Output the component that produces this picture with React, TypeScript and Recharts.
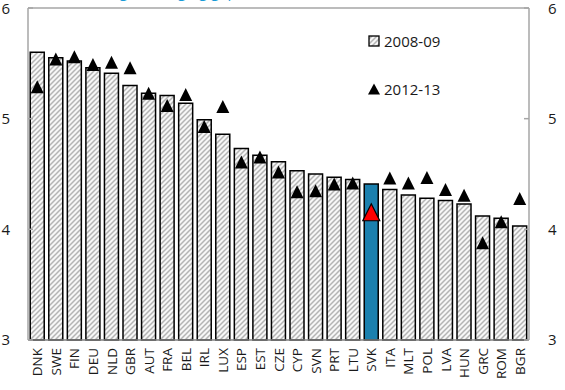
import React from "react";
import { ComposedChart, Bar, Line, XAxis, YAxis, Cell, ReferenceLine } from "recharts";

const countries = ["DNK", "SWE", "FIN", "DEU", "NLD", "GBR", "AUT", "FRA", "BEL", "IRL", "LUX", "ESP", "EST", "CZE", "CYP", "SVN", "PRT", "LTU", "SVK", "ITA", "MLT", "POL", "LVA", "HUN", "GRC", "ROM", "BGR"];
const v2008 = [5.6, 5.55, 5.52, 5.46, 5.41, 5.3, 5.23, 5.21, 5.14, 4.99, 4.86, 4.73, 4.67, 4.61, 4.53, 4.5, 4.47, 4.45, 4.41, 4.36, 4.31, 4.28, 4.26, 4.23, 4.12, 4.1, 4.03];
const v2012 = [5.28, 5.53, 5.55, 5.48, 5.5, 5.45, 5.22, 5.11, 5.21, 4.92, 5.1, 4.6, 4.645, 4.51, 4.33, 4.34, 4.4, 4.41, 4.15, 4.455, 4.41, 4.46, 4.35, 4.3, 3.87, 4.06, 4.27];
const yTicks = [3, 4, 5, 6];
const HIGHLIGHT = "SVK";

const data = countries.map((c, i) => ({ name: c, a: v2008[i], b: v2012[i] }));

const FONT = "'Open Sans', 'Noto Sans', sans-serif";
const GREY = "#a6a6a6";

function Triangle({ cx, cy, payload }: any) {
  if (cx == null || cy == null) return null;
  if (payload && payload.name === HIGHLIGHT) {
    return (
      <polygon
        points={`${cx},${cy - 9} ${cx + 8.5},${cy + 8} ${cx - 8.5},${cy + 8}`}
        fill="#ff0000"
        stroke="#000"
        strokeWidth={1.2}
      />
    );
  }
  return <polygon points={`${cx},${cy - 7.5} ${cx + 6.5},${cy + 5.5} ${cx - 6.5},${cy + 5.5}`} fill="#000" />;
}

function CountryTick({ x, y, payload }: any) {
  return (
    <text
      x={x}
      y={y}
      transform={`rotate(-90 ${x} ${y})`}
      textAnchor="end"
      dominantBaseline="central"
      fontSize={13.5}
      fontFamily={FONT}
      fill="#1a1a1a"
    >
      {payload.value}
    </text>
  );
}

function LegendBox() {
  return (
    <div
      style={{
        position: "absolute",
        left: 368,
        top: 31,
        fontFamily: FONT,
        fontSize: 15,
        color: "#1a1a1a",
        lineHeight: "20px",
      }}
    >
      <div style={{ display: "flex", alignItems: "center", gap: 3 }}>
        <svg width={13} height={13}>
          <rect x={1} y={1} width={10} height={10} fill="url(#hatch)" stroke="#000" strokeWidth={1.3} />
        </svg>
        <span>2008-09</span>
      </div>
      <div style={{ display: "flex", alignItems: "center", gap: 3, marginTop: 28 }}>
        <svg width={13} height={13}>
          <polygon points="6,0.5 12,11.5 0,11.5" fill="#000" />
        </svg>
        <span>2012-13</span>
      </div>
    </div>
  );
}

export default function App() {
  return (
    <div style={{ position: "fixed", left: 0, top: 0, width: 565, height: 390, overflow: "hidden", background: "#fff" }}>
      <div
        style={{
          position: "absolute",
          left: 62,
          top: -19,
          fontFamily: FONT,
          fontSize: 15,
          color: "#1a9bd7",
          whiteSpace: "nowrap",
        }}
      >
        Tax wedge, changing gaps
      </div>
      <ComposedChart
        width={565}
        height={390}
        data={data}
        margin={{ top: 8, right: 0, bottom: 0, left: 0 }}
        barCategoryGap="12%"
      >
        <defs>
          <pattern id="hatch" patternUnits="userSpaceOnUse" width={5} height={5}>
            <rect width={5} height={5} fill="#f7f7f7" />
            <path d="M-1,1 l2,-2 M0,5 l5,-5 M4,6 l2,-2" stroke="#b4b4b4" strokeWidth={1.5} />
          </pattern>
        </defs>
        <XAxis
          dataKey="name"
          interval={0}
          height={50}
          tickSize={0}
          tickMargin={8}
          tickLine={false}
          axisLine={{ stroke: "#7f7f7f", strokeWidth: 1.5 }}
          tick={<CountryTick />}
        />
        <YAxis
          yAxisId="left"
          domain={[3, 6]}
          ticks={yTicks}
          width={28}
          tickSize={-5}
          tickMargin={23}
          axisLine={{ stroke: GREY, strokeWidth: 1.5 }}
          tickLine={{ stroke: GREY, strokeWidth: 1.5 }}
          tick={{ fill: "#1a1a1a", fontSize: 15, fontFamily: FONT }}
        />
        <YAxis
          yAxisId="right"
          orientation="right"
          domain={[3, 6]}
          ticks={yTicks}
          width={36}
          tickSize={-5}
          tickMargin={24}
          axisLine={{ stroke: GREY, strokeWidth: 1.5 }}
          tickLine={{ stroke: GREY, strokeWidth: 1.5 }}
          tick={{ fill: "#1a1a1a", fontSize: 15, fontFamily: FONT }}
        />
        <ReferenceLine yAxisId="left" y={6} stroke={GREY} strokeWidth={1.5} />
        <Bar yAxisId="left" dataKey="a" stroke="#000" strokeWidth={1.5} isAnimationActive={false}>
          {data.map((d) => (
            <Cell key={d.name} fill={d.name === HIGHLIGHT ? "#1b80ae" : "url(#hatch)"} />
          ))}
        </Bar>
        <Line
          yAxisId="right"
          dataKey="b"
          stroke="none"
          strokeWidth={0}
          dot={<Triangle />}
          activeDot={false}
          isAnimationActive={false}
        />
      </ComposedChart>
      <LegendBox />
    </div>
  );
}
